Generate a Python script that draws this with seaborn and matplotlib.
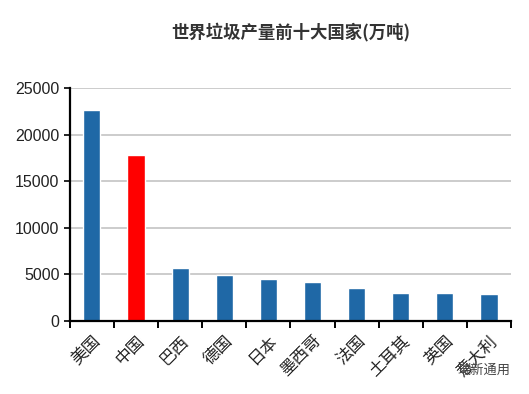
import matplotlib
matplotlib.use("Agg")
import matplotlib.pyplot as plt
import seaborn as sns
import pandas as pd
import numpy as np

countries = ["美国", "中国", "巴西", "德国", "日本", "墨西哥", "法国", "土耳其", "英国", "意大利"]
values = [22600, 17800, 5700, 4900, 4500, 4200, 3500, 3000, 3000, 2900]
highlight = ["other", "china", "other", "other", "other", "other", "other", "other", "other", "other"]
yticks = [0, 5000, 10000, 15000, 20000, 25000]
title = "世界垃圾产量前十大国家(万吨)"

sns.set_theme(style="white")
plt.rcParams['font.family'] = ['Noto Sans CJK SC', 'DejaVu Sans']

df = pd.DataFrame({"country": countries, "value": values, "group": highlight})

fig = plt.figure(figsize=(5.29, 3.94), dpi=100)
ax = fig.add_axes([0.132, 0.185, 0.834, 0.592])
sns.barplot(data=df, x="country", y="value", hue="group",
            palette={"other": "#1f68a6", "china": "#ff0000"},
            dodge=False, width=0.39, legend=False, ax=ax, saturation=1)

ax.set_ylim(0, 25000)
ax.set_xlim(-0.5, len(countries) - 0.5)
ax.set_yticks(yticks)
ax.set_yticklabels([str(v) for v in yticks], family=['Liberation Sans', 'DejaVu Sans'], fontsize=11.5, color="#222222")
ax.yaxis.grid(True, color="#c4c4c4", linewidth=1.2)
ax.set_axisbelow(True)
for s in ["top", "right"]:
    ax.spines[s].set_visible(False)
for s in ["left", "bottom"]:
    ax.spines[s].set_color("black")
    ax.spines[s].set_linewidth(1.6)
ax.set_xlabel("")
ax.set_ylabel("")
ax.tick_params(axis="y", length=4, width=1.2, color="black", direction="out", left=True)
ax.set_xticks(np.arange(len(countries)))
ax.set_xticklabels(countries, rotation=45, ha="right", rotation_mode="anchor", fontsize=12, color="#222222")
ax.tick_params(axis="x", which="major", length=0, pad=8)
ax.set_xticks(np.arange(-0.5, len(countries)), minor=True)
ax.tick_params(axis="x", which="minor", length=5, width=1.4, color="black", direction="out", bottom=True)

fig.text(0.55, 0.92, title, ha="center", va="center", fontsize=12.5, fontweight="bold", color="#333333")
fig.text(0.965, 0.06, "瑞新通用", ha="right", va="center", fontsize=9.5, color="#444444")

fig.savefig("out.png", dpi=100)
